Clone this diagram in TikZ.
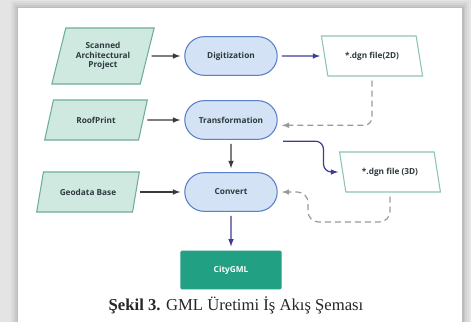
\documentclass[tikz,border=0pt]{standalone}
\usepackage{fontspec}
\setmainfont{Liberation Serif}
\setsansfont{Open Sans}
\usetikzlibrary{shapes.geometric,shapes.misc}
\definecolor{pagegray}{HTML}{E4E4E4}
\definecolor{boxtext}{HTML}{2E3A3E}
\definecolor{inputfill}{HTML}{CFE9E0}
\definecolor{inputline}{HTML}{6FAE98}
\definecolor{procfill}{HTML}{D3E2F4}
\definecolor{procline}{HTML}{5B7FC8}
\definecolor{outline}{HTML}{8CC4B2}
\definecolor{citygreen}{HTML}{22A083}
\definecolor{darkarrow}{HTML}{3A3A3A}
\definecolor{navyarrow}{HTML}{3E3C98}
\definecolor{dasharrow}{HTML}{9A9A9A}
\begin{document}
\begin{tikzpicture}[x=0.75pt,y=-0.75pt]\tikzstyle{every node}=[font=\sffamily\bfseries\fontsize{6.2}{7.2}\selectfont, text=boxtext]
\tikzstyle{input}=[trapezium, trapezium left angle=72, trapezium right angle=108, trapezium stretches=true, draw=inputline, fill=inputfill, line width=0.8pt, minimum width=77pt, minimum height=30pt, align=center]
\tikzstyle{output}=[trapezium, trapezium left angle=105, trapezium right angle=75, trapezium stretches=true, draw=outline, fill=white, line width=0.8pt, minimum width=76pt, minimum height=30pt]
\tikzstyle{process}=[rounded rectangle, draw=procline, fill=procfill, line width=0.8pt, minimum width=76pt, minimum height=29pt]
\tikzstyle{result}=[rectangle, rounded corners=1pt, fill=citygreen, text=white, minimum width=76pt, minimum height=29pt]
\tikzstyle{flow}=[-latex, line width=0.9pt, shorten <=3pt, shorten >=3pt]
\tikzstyle{feedback}=[flow, dasharrow, dash pattern=on 4.5pt off 3pt]
% page
\fill[pagegray] (0,0) rectangle (471,322);
\foreach \d/\o in {7/0.03, 5/0.04, 3/0.05, 1.5/0.06}
  \fill[black, opacity=\o] (18-\d,8-\d) rectangle (462+\d,322);
\fill[white] (18,8) rectangle (462,322);
\useasboundingbox (0,0) rectangle (471,322);
% inputs
\node[input, minimum height=42pt] (scan) at (103,56) {Scanned\\Architectural\\Project};
\node[input] (roof) at (96,120) {RoofPrint};
\node[input] (geo) at (88,192) {Geodata Base};
% processes
\node[process] (dig) at (231,56) {Digitization};
\node[process] (trans) at (231,120) {Transformation};
\node[process] (conv) at (231,192) {Convert};
% outputs
\node[output] (dgn2d) at (372,56) {*.dgn file(2D)};
\node[output] (dgn3d) at (390,172) {*.dgn file (3D)};
\node[result] (city) at (231,270) {CityGML};
\coordinate (loop3d) at (308,222);
% caption
\node[font=\rmfamily\fontsize{12.5}{14}\selectfont, text=black!85] (cap) at (236,305) {\textbf{Şekil 3.} GML Üretimi İş Akış Şeması};
%%%%%%%%%%%%%%%%
\draw[flow, darkarrow] (scan) -- (dig);
\draw[flow, darkarrow] (roof) -- (trans);
\draw[flow, darkarrow] (geo) -- (conv);
\draw[flow, darkarrow] (trans) -- (conv);
\draw[flow, navyarrow] (dig) -- (dgn2d);
\draw[flow, navyarrow] (conv) -- (city);
\draw[flow, navyarrow, rounded corners=6pt, shorten <=0pt] ([xshift=4pt,yshift=-1pt]trans.east |- trans.south) -| ([xshift=-14pt]dgn3d.west) -- (dgn3d.west);
\draw[feedback, rounded corners=6pt] (dgn2d.south) |- ([yshift=-4pt]trans.east);
\draw[feedback, rounded corners=8pt] (dgn3d.south) |- (loop3d) |- (conv.east);
\end{tikzpicture}
\end{document}
